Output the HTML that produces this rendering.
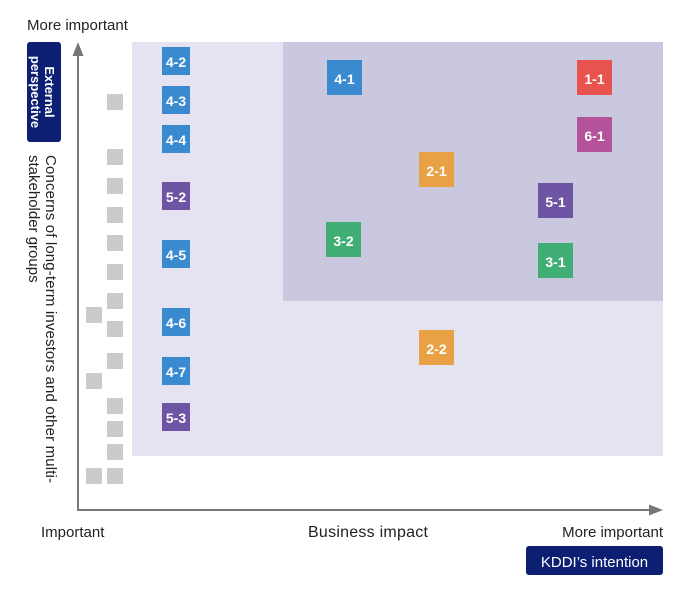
<!DOCTYPE html>
<html><head><meta charset="utf-8"><style>
html,body{margin:0;padding:0;background:#fff;}
svg{display:block;}
text{font-family:"Liberation Sans",sans-serif;}
.lb{font-weight:bold;font-size:14px;fill:#fff;text-anchor:middle;}
</style></head><body>
<svg width="690" height="602" viewBox="0 0 690 602" xmlns="http://www.w3.org/2000/svg">
<rect x="0" y="0" width="690" height="602" fill="#fff"/>
<rect x="132" y="42" width="531" height="414" fill="#e5e3f1"/>
<rect x="283" y="42" width="380" height="259" fill="#cac8df"/>

<!-- gray squares -->
<g fill="#cbcbcb">
<rect x="107" y="94" width="16" height="16"/>
<rect x="107" y="149" width="16" height="16"/>
<rect x="107" y="178" width="16" height="16"/>
<rect x="107" y="207" width="16" height="16"/>
<rect x="107" y="235" width="16" height="16"/>
<rect x="107" y="264" width="16" height="16"/>
<rect x="107" y="293" width="16" height="16"/>
<rect x="107" y="321" width="16" height="16"/>
<rect x="107" y="353" width="16" height="16"/>
<rect x="107" y="398" width="16" height="16"/>
<rect x="107" y="421" width="16" height="16"/>
<rect x="107" y="444" width="16" height="16"/>
<rect x="107" y="468" width="16" height="16"/>
<rect x="86" y="307" width="16" height="16"/>
<rect x="86" y="373" width="16" height="16"/>
<rect x="86" y="468" width="16" height="16"/>
</g>

<!-- left column boxes 28x28 -->
<g>
<rect x="162" y="47" width="28" height="28" fill="#3a8ad0"/><text class="lb" x="176" y="67">4-2</text>
<rect x="162" y="86" width="28" height="28" fill="#3a8ad0"/><text class="lb" x="176" y="106">4-3</text>
<rect x="162" y="125" width="28" height="28" fill="#3a8ad0"/><text class="lb" x="176" y="145">4-4</text>
<rect x="162" y="182" width="28" height="28" fill="#6e55a3"/><text class="lb" x="176" y="202">5-2</text>
<rect x="162" y="240" width="28" height="28" fill="#3a8ad0"/><text class="lb" x="176" y="260">4-5</text>
<rect x="162" y="308" width="28" height="28" fill="#3a8ad0"/><text class="lb" x="176" y="328">4-6</text>
<rect x="162" y="357" width="28" height="28" fill="#3a8ad0"/><text class="lb" x="176" y="377">4-7</text>
<rect x="162" y="403" width="28" height="28" fill="#6e55a3"/><text class="lb" x="176" y="423">5-3</text>
</g>

<!-- big boxes 35x35 -->
<g>
<rect x="327" y="60" width="35" height="35" fill="#3a8ad0"/><text class="lb" x="344.5" y="84">4-1</text>
<rect x="577" y="60" width="35" height="35" fill="#e9534e"/><text class="lb" x="594.5" y="84">1-1</text>
<rect x="577" y="117" width="35" height="35" fill="#b4539b"/><text class="lb" x="594.5" y="141">6-1</text>
<rect x="419" y="152" width="35" height="35" fill="#e8a245"/><text class="lb" x="436.5" y="176">2-1</text>
<rect x="538" y="183" width="35" height="35" fill="#6e55a3"/><text class="lb" x="555.5" y="207">5-1</text>
<rect x="326" y="222" width="35" height="35" fill="#41ae76"/><text class="lb" x="343.5" y="246">3-2</text>
<rect x="538" y="243" width="35" height="35" fill="#41ae76"/><text class="lb" x="555.5" y="267">3-1</text>
<rect x="419" y="330" width="35" height="35" fill="#e8a245"/><text class="lb" x="436.5" y="354">2-2</text>
</g>

<!-- axes -->
<line x1="78" y1="52" x2="78" y2="511" stroke="#777" stroke-width="2"/>
<line x1="77" y1="510" x2="653" y2="510" stroke="#777" stroke-width="2"/>
<polygon points="78,42 72.5,56 83.5,56" fill="#777"/>
<polygon points="663,510 649,504.5 649,515.5" fill="#777"/>

<!-- labels -->
<text x="27" y="30" font-size="15" fill="#222">More important</text>
<rect x="27" y="42" width="34" height="100" rx="3" fill="#0c1f73"/>
<g transform="translate(41,92) rotate(90)">
<text x="0" y="-4" font-size="13" font-weight="bold" fill="#fff" text-anchor="middle">External</text>
<text x="0" y="10" font-size="13" font-weight="bold" fill="#fff" text-anchor="middle">perspective</text>
</g>
<g transform="translate(0,155) rotate(90)">
<text x="0" y="-46" font-size="15" fill="#222" textLength="328">Concerns of long-term investors and other multi-</text>
<text x="0" y="-29" font-size="15" fill="#222">stakeholder groups</text>
</g>

<text x="41" y="537" font-size="15" fill="#222">Important</text>
<text x="308" y="537" font-size="16" fill="#222" textLength="120">Business impact</text>
<text x="663" y="537" font-size="15" fill="#222" text-anchor="end">More important</text>
<rect x="526" y="546" width="137" height="29" rx="3" fill="#0c1f73"/>
<text x="594.5" y="567" font-size="15" fill="#fff" text-anchor="middle">KDDI’s intention</text>
</svg>
</body></html>
